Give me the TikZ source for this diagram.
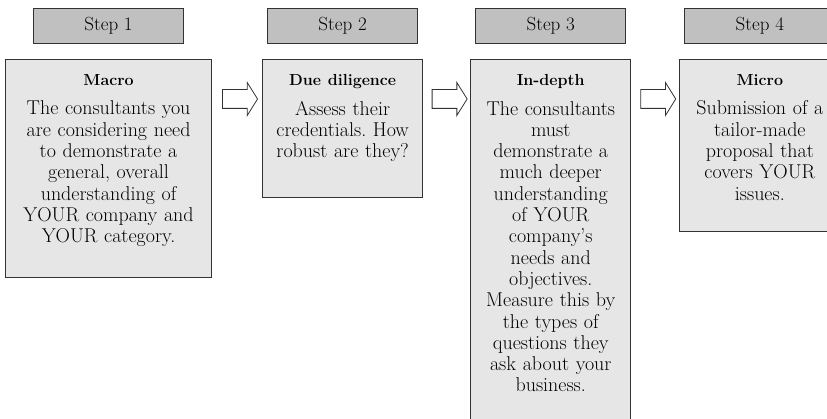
\documentclass[tikz,border=0pt]{standalone}
\usepackage{xcolor}
\usepackage{tikz}
\usetikzlibrary{shapes.arrows,positioning,calc}

\definecolor{headgray}{HTML}{C0C0C0}
\definecolor{boxgray}{HTML}{E6E6E6}
\definecolor{edgegray}{HTML}{333333}

\tikzset{
    stephead/.style={rectangle, draw=edgegray, line width=1.1pt, fill=headgray, minimum width=150pt, minimum height=35pt, inner sep=0pt, font=\fontsize{19}{21.3}\selectfont},
    stagebox/.style={rectangle, draw=edgegray, line width=1.1pt, fill=boxgray, anchor=north west, inner sep=0pt},
    stagetext/.style={anchor=north, align=center, inner sep=0pt, font=\fontsize{20}{21.3}\selectfont},
    stagearrow/.style={single arrow, draw=edgegray, line width=0.8pt, fill=white, minimum height=35pt, minimum width=32pt, inner xsep=0pt, inner ysep=9pt, single arrow head extend=7pt, single arrow tip angle=116}
}
\newcommand{\stagetitle}[1]{{\fontsize{16}{21.3}\selectfont\bfseries #1}\\[8.5pt]}

\begin{document}
\frenchspacing
\begin{tikzpicture}[x=1pt, y=-1pt]
    \useasboundingbox (0,0) rectangle (827,419);
    \clip (0,0) rectangle (827,419);

    % Stage boxes - left to right
    \node [stagebox, minimum width=206pt, minimum height=218pt] (macro) at (5,59) {};
    \node [stagebox, minimum width=160pt, minimum height=138pt, right=50pt of macro.north east, anchor=north west] (due_diligence) {};
    \node [stagebox, minimum width=160pt, minimum height=370pt, right=47pt of due_diligence.north east, anchor=north west] (in_depth) {};
    \node [stagebox, minimum width=160pt, minimum height=172pt, right=48pt of in_depth.north east, anchor=north west] (micro) {};

    % Step headers above the boxes
    \node [stephead, above=15pt of macro] (step1) {Step 1};
    \node [stephead, above=15pt of due_diligence] (step2) {Step 2};
    \node [stephead, above=15pt of in_depth] (step3) {Step 3};
    \node [stephead, above=15pt of micro] (step4) {Step 4};

    % Box texts
    \node [stagetext, text width=200pt, below=15pt of macro.north] (macro_text) {
        \stagetitle{Macro}
        The consultants you\\
        are considering need\\
        to demonstrate a\\
        general, overall\\
        understanding of\\
        YOUR company and\\
        YOUR category.
    };
    \node [stagetext, text width=156pt, below=15pt of due_diligence.north] (due_diligence_text) {
        \stagetitle{Due diligence}
        Assess their\\
        credentials. How\\
        robust are they?
    };
    \node [stagetext, text width=156pt, below=15pt of in_depth.north] (in_depth_text) {
        \stagetitle{In-depth}
        The consultants\\
        must\\
        demonstrate a\\
        much deeper\\
        understanding\\
        of YOUR\\
        company's\\
        needs and\\
        objectives.\\
        Measure this by\\
        the types of\\
        questions they\\
        ask about your\\
        business.
    };
    \node [stagetext, text width=156pt, below=15pt of micro.north] (micro_text) {
        \stagetitle{Micro}
        Submission of a\\
        tailor-made\\
        proposal that\\
        covers YOUR\\
        issues.
    };

    % Block arrows between the stages
    \node [stagearrow, yshift=-40pt] (arrow12) at ($(macro.north east)!0.5!(due_diligence.north west)$) {};
    \node [stagearrow, yshift=-40pt] (arrow23) at ($(due_diligence.north east)!0.5!(in_depth.north west)$) {};
    \node [stagearrow, yshift=-40pt] (arrow34) at ($(in_depth.north east)!0.5!(micro.north west)$) {};

\end{tikzpicture}
\end{document}
